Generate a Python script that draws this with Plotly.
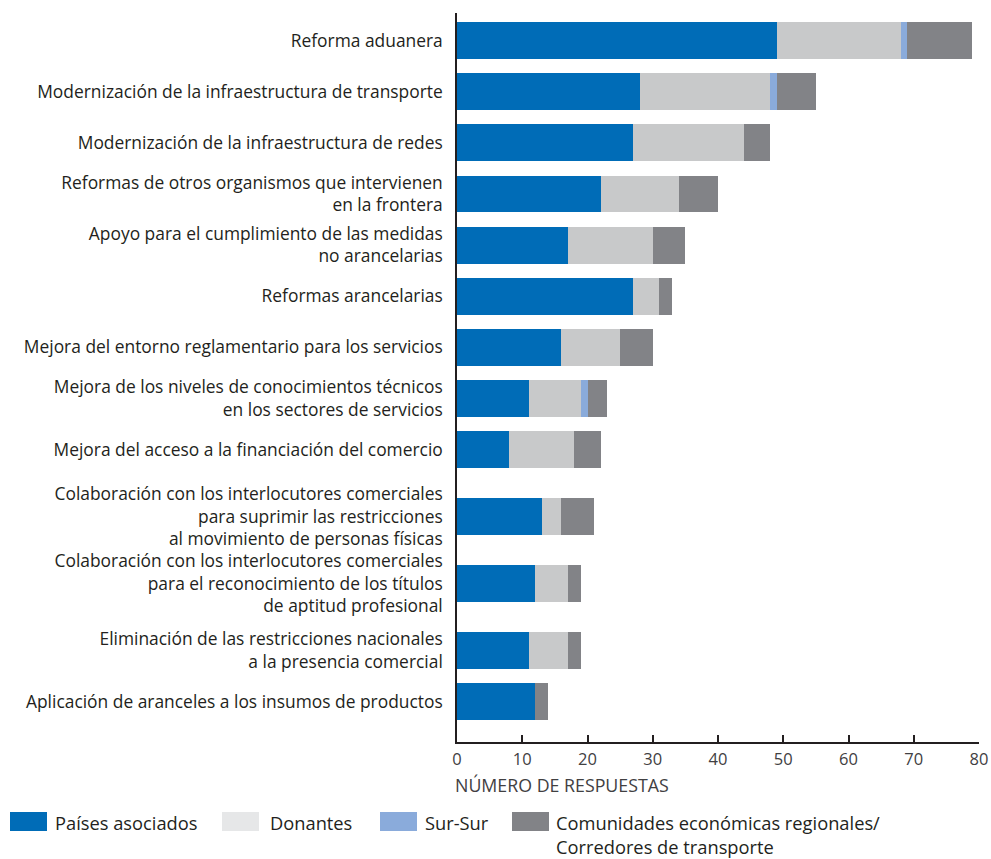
import plotly.graph_objects as go

categories = [
    "Reforma aduanera",
    "Modernización de la infraestructura de transporte",
    "Modernización de la infraestructura de redes",
    "Reformas de otros organismos que intervienen<br>en la frontera",
    "Apoyo para el cumplimiento de las medidas<br>no arancelarias",
    "Reformas arancelarias",
    "Mejora del entorno reglamentario para los servicios",
    "Mejora de los niveles de conocimientos técnicos<br>en los sectores de servicios",
    "Mejora del acceso a la financiación del comercio",
    "Colaboración con los interlocutores comerciales<br>para suprimir las restricciones<br>al movimiento de personas físicas",
    "Colaboración con los interlocutores comerciales<br>para el reconocimiento de los títulos<br>de aptitud profesional",
    "Eliminación de las restricciones nacionales<br>a la presencia comercial",
    "Aplicación de aranceles a los insumos de productos",
]
paises = [49, 28, 27, 22, 17, 27, 16, 11, 8, 13, 12, 11, 12]
donantes = [19, 20, 17, 12, 13, 4, 9, 8, 10, 3, 5, 6, 0]
sursur = [1, 1, 0, 0, 0, 0, 0, 1, 0, 0, 0, 0, 0]
cer = [10, 6, 4, 6, 5, 2, 5, 3, 4, 5, 2, 2, 2]

series_names = [
    "Países asociados",
    "Donantes",
    "Sur-Sur",
    "Comunidades económicas regionales/<br>Corredores de transporte",
]
x_ticks = [0, 10, 20, 30, 40, 50, 60, 70, 80]
x_title = "NÚMERO DE RESPUESTAS"

# styling
bar_colors = ["#006cb7", "#c8c9ca", "#8aabdb", "#828387"]
legend_colors = ["#006cb7", "#e6e7e8", "#8aabdb", "#828387"]
text_color = "#231f20"
tick_color = "#414042"
FONT = "Open Sans"

# row positions: rows with 3-line labels get more room
positions = []
cur = 0.0
for i, c in enumerate(categories):
    if i > 0:
        nl = max(categories[i - 1].count("<br>"), c.count("<br>")) + 1
        cur += 1.31 if nl >= 3 else 1.0
    positions.append(cur)

W, H = 991, 859
L, R, T, B = 457, 12, 13, 117
pw, ph = W - L - R, H - T - B


def px_x(px):
    return (px - L) / pw


def px_y(py):
    return (H - B - py) / ph


fig = go.Figure()
for name, vals, col in zip(series_names, [paises, donantes, sursur, cer], bar_colors):
    fig.add_trace(go.Bar(
        x=vals, y=positions, orientation="h", name=name,
        marker=dict(color=col, line=dict(width=0)), width=0.72,
        showlegend=False,
    ))

# custom legend
leg_items = [(10, 55), (222, 270), (380, 425), (512, 556)]
shapes = []
annotations = []
for (sx, tx), name, col in zip(leg_items, series_names, legend_colors):
    shapes.append(dict(type="rect", xref="paper", yref="paper",
                       x0=px_x(sx), x1=px_x(sx + 37), y0=px_y(831), y1=px_y(812),
                       fillcolor=col, line=dict(width=0)))
    annotations.append(dict(xref="paper", yref="paper", x=px_x(tx - 2), y=px_y(808),
                            xanchor="left", yanchor="top", text=name, showarrow=False,
                            align="left", font=dict(family=FONT, size=18.3, color=text_color)))

annotations.append(dict(xref="paper", yref="paper", x=px_x(453), y=px_y(785),
                        xanchor="left", yanchor="middle", text=x_title, showarrow=False,
                        font=dict(family=FONT, size=17.8, color=tick_color)))

fig.update_layout(
    barmode="stack",
    width=W, height=H, autosize=False,
    margin=dict(l=L, r=R, t=T, b=B, pad=0),
    plot_bgcolor="white", paper_bgcolor="white",
    font=dict(family=FONT, size=17.8, color=text_color),
    bargap=0,
    shapes=shapes,
    annotations=annotations,
    xaxis=dict(range=[0, 80], tickvals=x_ticks, showgrid=False, zeroline=False,
               automargin=False,
               showline=True, linecolor="#231f20", linewidth=1.5,
               ticks="inside", ticklen=7, tickwidth=1.5, tickcolor="#231f20",
               ticklabelstandoff=1,
               tickfont=dict(family=FONT, size=16.5, color=tick_color)),
    yaxis=dict(range=[positions[-1] + 0.79, -0.54], tickvals=positions, ticktext=categories,
               automargin=False,
               showgrid=False, zeroline=False, showline=True, linecolor="#231f20",
               linewidth=1.5, ticks="", ticklabelstandoff=9,
               tickfont=dict(family=FONT, size=17.4, color=text_color)),
)

fig.write_html("out.html", config={"displayModeBar": False},
               post_script="document.body.style.margin='0px';")
